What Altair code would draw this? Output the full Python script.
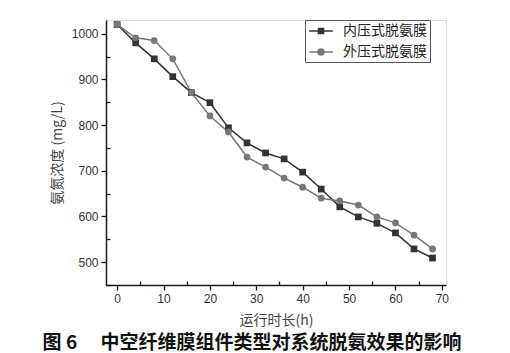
import altair as alt
import pandas as pd

hours = [0, 4, 8, 12, 16, 20, 24, 28, 32, 36, 40, 44, 48, 52, 56, 60, 64, 68]
inner = [1020, 980, 945, 906, 871, 849, 794, 761, 739, 726, 697, 660, 621, 599, 585, 564, 529, 509]
outer = [1020, 991, 985, 945, 871, 820, 785, 730, 708, 684, 664, 640, 634, 625, 599, 586, 559, 529]
series_names = ["内压式脱氨膜", "外压式脱氨膜"]
series_colors = ["#333333", "#777777"]
x_major = [0, 10, 20, 30, 40, 50, 60, 70]
x_minor = [5, 15, 25, 35, 45, 55, 65]
y_major = [500, 600, 700, 800, 900, 1000]
y_minor = [450, 550, 650, 750, 850, 950]

rows = []
for h, a, b in zip(hours, inner, outer):
    rows.append({"t": h, "v": a, "s": series_names[0]})
    rows.append({"t": h, "v": b, "s": series_names[1]})
df = pd.DataFrame(rows)

XD = [-2.4, 70.9]
YD = [450, 1030]
xs = alt.Scale(domain=XD, nice=False, zero=False)
ys = alt.Scale(domain=YD, nice=False, zero=False)

axis_common = dict(
    grid=False, tickSize=5, tickWidth=1.3, tickColor="#1a1a1a",
    domainColor="#1a1a1a", domainWidth=1.5,
    labelFont="Liberation Sans", labelFontSize=12, labelColor="#333333",
    titleFont="Noto Sans CJK SC", titleFontSize=14, titleFontWeight="normal",
    titleColor="#444444",
)

x_axis = alt.Axis(values=x_major, format="d", title="运行时长(h)", labelPadding=3, titlePadding=9, **axis_common)
y_axis = alt.Axis(values=y_major, format="d", title="氨氮浓度 (mg/L)", labelPadding=3, titlePadding=7, **axis_common)

base = alt.Chart(df)
f_in = alt.datum.s == series_names[0]
f_out = alt.datum.s == series_names[1]

line_in = base.transform_filter(f_in).mark_line(color=series_colors[0], strokeWidth=1.5).encode(
    x=alt.X("t:Q", scale=xs, axis=x_axis),
    y=alt.Y("v:Q", scale=ys, axis=y_axis),
)
line_out = base.transform_filter(f_out).mark_line(color=series_colors[1], strokeWidth=1.5).encode(
    x=alt.X("t:Q", scale=xs),
    y=alt.Y("v:Q", scale=ys),
)
sq = base.transform_filter(f_in).mark_point(
    shape="square", filled=True, size=45, opacity=1, color=series_colors[0]
).encode(x=alt.X("t:Q", scale=xs), y=alt.Y("v:Q", scale=ys))
ci = base.transform_filter(f_out).mark_point(
    shape="circle", filled=True, size=45, opacity=1, color=series_colors[1]
).encode(x=alt.X("t:Q", scale=xs), y=alt.Y("v:Q", scale=ys))

sq_path = "M-1.7,0H-0.36M0.36,0H1.7M-0.36,-0.36H0.36V0.36H-0.36Z"
ci_path = "M-1.7,0H-0.43M0.43,0H1.7M-0.43,0A0.43,0.43 0 1,0 0.43,0A0.43,0.43 0 1,0 -0.43,0Z"

leg = alt.Legend(
    title=None, orient="none", legendX=199, legendY=0,
    symbolSize=196, symbolStrokeWidth=1.5, symbolOffset=5, symbolOpacity=1,
    labelFont="Noto Sans CJK SC", labelFontSize=14, labelColor="#222222",
    labelOffset=14, strokeColor="#555555", padding=3, rowPadding=6,
)

legend_layer = base.mark_point(filled=True, strokeWidth=1.5, opacity=0).encode(
    x=alt.X("t:Q", scale=xs),
    y=alt.Y("v:Q", scale=ys),
    fill=alt.Fill("s:N", scale=alt.Scale(domain=series_names, range=series_colors), legend=leg),
    stroke=alt.Stroke("s:N", scale=alt.Scale(domain=series_names, range=series_colors), legend=leg),
    shape=alt.Shape("s:N", scale=alt.Scale(domain=series_names, range=[sq_path, ci_path]), legend=leg),
)

main = alt.layer(line_in, line_out, sq, ci, legend_layer)

minor_common = dict(grid=False, tickSize=4, tickWidth=1.3, tickColor="#1a1a1a",
                    labels=False, domain=False, title=None, offset=-4)
minor = base.mark_point(opacity=0).encode(
    x=alt.X("t:Q", scale=alt.Scale(domain=XD, nice=False, zero=False),
            axis=alt.Axis(orient="bottom", values=x_minor, **minor_common)),
    y=alt.Y("v:Q", scale=alt.Scale(domain=YD, nice=False, zero=False),
            axis=alt.Axis(orient="left", values=y_minor, **minor_common)),
)

chart = alt.layer(main, minor).resolve_scale(x="independent", y="independent").properties(
    width=340, height=265,
    autosize=alt.AutoSizeParams(type="none"),
    padding={"left": 106, "top": 20, "right": 64, "bottom": 68},
    title=alt.TitleParams(
        text="图 6\u3000 中空纤维膜组件类型对系统脱氨效果的影响",
        orient="bottom", anchor="middle", dx=-24, offset=7,
        font="Noto Sans CJK SC", fontSize=19, fontWeight="bold", color="#111111",
    ),
).configure_view(stroke=None).configure(background="white")

chart.save("out.html", embed_options={"renderer": "svg", "actions": False})
